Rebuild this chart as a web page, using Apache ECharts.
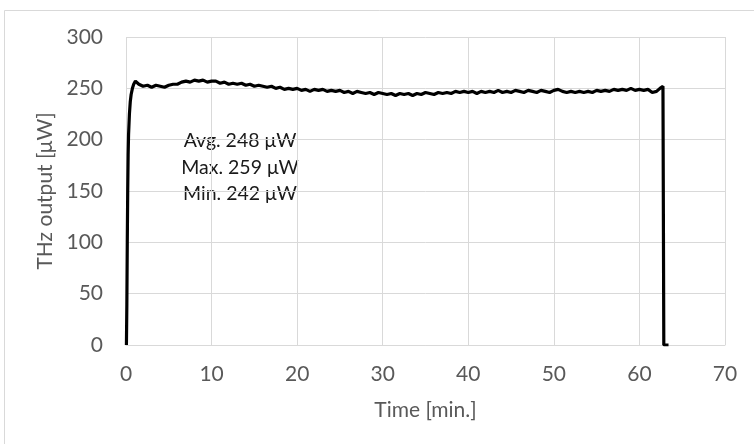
<!DOCTYPE html>
<html><head><meta charset="utf-8">
<script src="https://cdn.jsdelivr.net/npm/echarts@6/dist/echarts.min.js"></script>
<style>html,body{margin:0;padding:0;background:#fff}#c{width:754px;height:444px}</style>
</head><body><div id="c"></div>
<script>
const times = [0.05,0.1,0.15,0.2,0.25,0.3,0.4,0.5,0.6,0.75,0.9,1.1,1.3,
1.5,2,2.5,3,3.5,4,4.5,5,5.5,6,6.5,7,7.5,8,8.5,9,9.5,10,10.5,11,11.5,12,12.5,13,13.5,14,14.5,15,15.5,16,16.5,17,17.5,18,18.5,19,19.5,
20,20.5,21,21.5,22,22.5,23,23.5,24,24.5,25,25.5,26,26.5,27,27.5,28,28.5,29,29.5,30,30.5,31,31.5,32,32.5,33,33.5,34,34.5,35,35.5,36,36.5,37,37.5,38,38.5,39,39.5,
40,40.5,41,41.5,42,42.5,43,43.5,44,44.5,45,45.5,46,46.5,47,47.5,48,48.5,49,49.5,50,50.5,51,51.5,52,52.5,53,53.5,54,54.5,55,55.5,56,56.5,57,57.5,58,58.5,59,59.5,
60,60.5,61,61.5,62,62.4,62.75,62.85,63.4];
const values = [0,40,100,150,185,205,225,237,244,250,254,257,256,
254,252,253,251,253,252,251,253,254,254,256,257,256,258,257,258,256,257,257,255,256,254,255,254,255,253,254,252,253,252,251,252,250,251,249,250,249,
250,248,249,247,249,248,249,247,248,247,248,246,247,245,247,246,245,246,244,246,245,244,245,243,245,244,245,243,245,244,246,245,244,246,245,246,245,247,246,247,
246,247,245,247,246,247,246,248,246,247,246,248,247,246,248,247,246,248,247,246,248,249,247,246,247,246,247,246,247,246,248,247,248,247,249,248,249,248,250,248,
249,248,249,246,247,250,252,0,0];
const xTicks = {min:0, max:70, interval:10};
const yTicks = {min:0, max:300, interval:50};
const notes = ['Avg. 248 μW','Max. 259 μW','Min. 242 μW'];

const chart = echarts.init(document.getElementById('c'));
const font = 'Lato, "Open Sans", sans-serif';
chart.setOption({
  animation:false,
  backgroundColor:'#fff',
  grid:{left:126, right:29, top:37, bottom:99},
  xAxis:{type:'value', min:xTicks.min, max:xTicks.max, interval:xTicks.interval,
    name:'Time [min.]', nameLocation:'middle', nameGap:55,
    nameTextStyle:{color:'#595959', fontSize:21, fontFamily:font},
    axisLine:{show:true, lineStyle:{color:'#d9d9d9', width:1}},
    axisTick:{show:false},
    axisLabel:{color:'#595959', fontSize:21, fontFamily:font, margin:19},
    splitLine:{show:true, lineStyle:{color:'#d9d9d9', width:1}}},
  yAxis:{type:'value', min:yTicks.min, max:yTicks.max, interval:yTicks.interval,
    name:'THz output [μW]', nameLocation:'middle', nameGap:70, nameRotate:90,
    nameTextStyle:{color:'#595959', fontSize:21, fontFamily:font},
    axisLine:{show:false}, axisTick:{show:false},
    axisLabel:{color:'#595959', fontSize:21, fontFamily:font, margin:23},
    splitLine:{show:true, lineStyle:{color:'#d9d9d9', width:1}}},
  series:[{type:'line', showSymbol:false, data:times.map((t,i)=>[t,values[i]]),
    lineStyle:{color:'#000', width:3.2}, itemStyle:{color:'#000'}}],
  graphic:[
    {type:'rect', shape:{x:4.5,y:10.5,width:780,height:460}, style:{fill:'none', stroke:'#d9d9d9', lineWidth:1}, silent:true, z:-1},
    ...notes.map((s,i)=>({type:'text', x:240, y:141+26.5*i,
      style:{text:s, fill:'#1a1a1a', font:'19.5px '+font, textAlign:'center', textVerticalAlign:'middle'}}))
  ]
});
</script></body></html>
